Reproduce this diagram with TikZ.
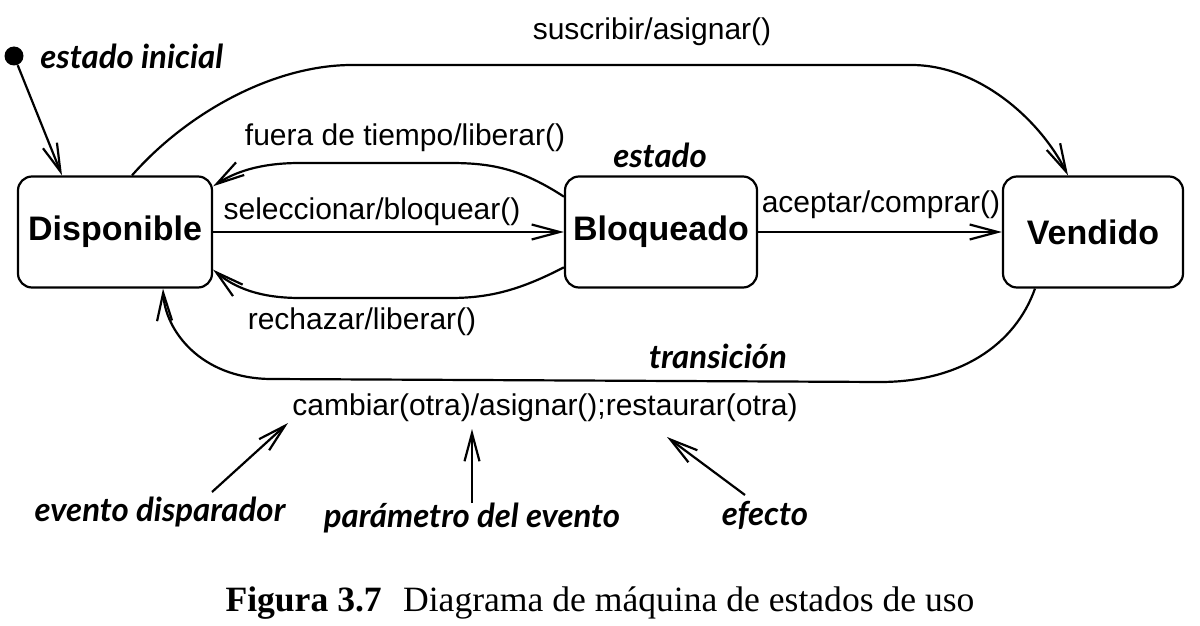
\documentclass[tikz,border=0pt]{standalone}
\usepackage{fontspec}
\setsansfont{Liberation Sans}
\setmainfont{Liberation Serif}
\newfontfamily\notafont{Lato}
\usetikzlibrary{arrows.meta}

\begin{document}
\begin{tikzpicture}[x=0.5pt,y=-0.5pt]
			\tikzstyle{estado}=[draw,line width=1.1pt,rounded corners=7pt,minimum height=55.5pt,font=\sffamily\bfseries\fontsize{17}{19}\selectfont]
			\tikzstyle{trans}=[line width=1.1pt,-{Straight Barb[length=14pt,width=7.5pt,line width=1.1pt]}]
			\tikzstyle{evento}=[font=\sffamily\fontsize{15}{17}\selectfont,inner sep=0pt]
			\tikzstyle{nota}=[font=\notafont\bfseries\itshape\fontsize{16.5}{18}\selectfont,inner sep=0pt]
			\useasboundingbox (0,0) rectangle (1200,626);
			\node[fill,circle,inner sep=0pt,minimum size=9.5pt] (inicio) at (14,56) {};
			\node[nota,anchor=west] (inicial) at (40,56) {estado inicial};
			\node[estado,minimum width=97pt] (disponible) at (115,232) {Disponible};
			\node[estado,minimum width=96pt] (bloqueado) at (661,232) {Bloqueado};
			\node[estado,minimum width=90pt] (vendido) at (1093,232) {Vendido};
			\node[nota] (estadolbl) at (660,155) {estado};
			\node[nota] (transicion) at (718,356) {transición};
			\node[evento] (suscribir) at (652,32) {suscribir/asignar()};
			\node[evento] (fuera) at (405,138) {fuera de tiempo/liberar()};
			\node[evento] (seleccionar) at (372,212) {seleccionar/bloquear()};
			\node[evento] (rechazar) at (362,322) {rechazar/liberar()};
			\node[evento] (aceptar) at (881,205) {aceptar/comprar()};
			\node[evento] (cambiar) at (545,408) {cambiar(otra)/asignar();restaurar(otra)};
			\node[nota] (disparador) at (160,512) {evento disparador};
			\node[nota] (parametro) at (472,518) {parámetro del evento};
			\node[nota] (efecto) at (765,515) {efecto};
			\node[font=\rmfamily\fontsize{17.8}{20}\selectfont] (pie) at (600,603) {\textbf{Figura 3.7}\hspace{0.6em}Diagrama de máquina de estados de uso};
			\draw[trans] (inicio) -- ([xshift=-26.5pt]disponible.north);
			\draw[trans] (disponible.east) -- (bloqueado.west);
			\draw[trans] (bloqueado.east) -- (vendido.west);
			\draw[trans] (bloqueado.160) .. controls (520,168) and (490,163) .. (450,163) -- (300,163) .. controls (260,163) and (235,172) .. (disponible.25);
			\draw[trans] (bloqueado.200) .. controls (520,290) and (490,298) .. (450,298) -- (300,298) .. controls (260,298) and (235,288) .. (disponible.-21);
			\draw[trans] ([xshift=8.5pt]disponible.north) .. controls (185,115) and (270,66) .. (350,65) -- (913,65) .. controls (980,66) and (1040,120) .. ([xshift=-12.5pt]vendido.north);
			\draw[trans] ([xshift=-29pt]vendido.south) .. controls (1015,345) and (960,382) .. (880,382) -- (270,379) .. controls (200,378) and (165,330) .. ([xshift=24pt]disponible.south);
			\draw[trans] ([shift={(52,-20)}]disparador.center) -- ([shift={(-257,15)}]cambiar.center);
			\draw[trans] ([shift={(0,-15)}]parametro.center) -- ([shift={(-73,21)}]cambiar.center);
			\draw[trans] ([shift={(-20,-20)}]efecto.center) -- ([shift={(122,29)}]cambiar.center);
\end{tikzpicture}
\end{document}
